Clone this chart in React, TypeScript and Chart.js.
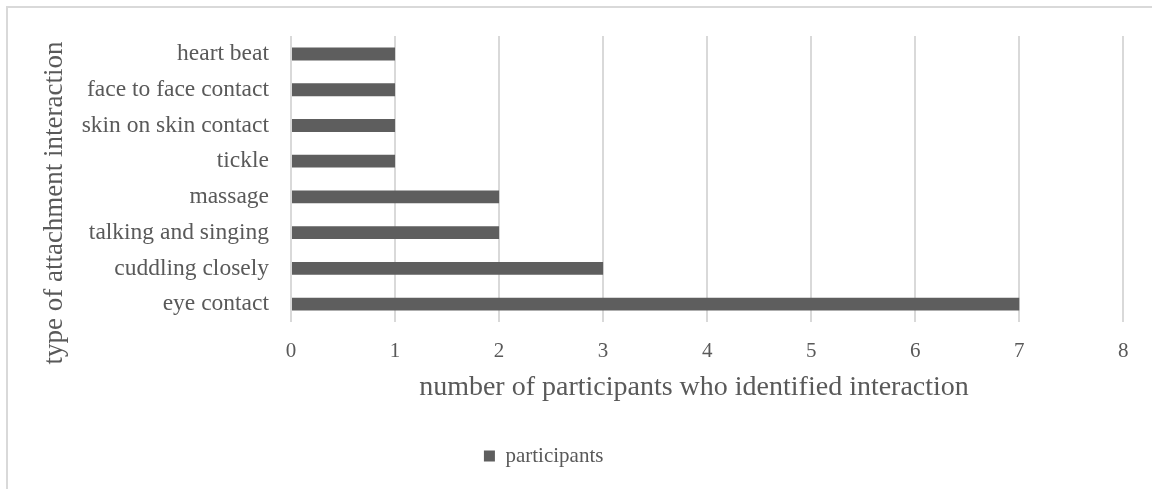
import React, { useEffect, useRef } from "react";
import { Chart, registerables } from "chart.js";

Chart.register(...registerables);

const categories = [
  "heart beat",
  "face to face contact",
  "skin on skin contact",
  "tickle",
  "massage",
  "talking and singing",
  "cuddling closely",
  "eye contact",
];
const participants = [1, 1, 1, 1, 2, 2, 3, 7];
const seriesName = "participants";
const xTitle = "number of participants who identified interaction";
const yTitle = "type of attachment interaction";
const xMin = 0;
const xMax = 8;
const xStep = 1;

const FONT = '"Liberation Serif", "Times New Roman", serif';
const TEXT = "#595959";
const BAR = "#5e5e5e";
const GRID = "#d9d9d9";
const SHIFT = 36; // canvas is shifted left by this many px

const titlesPlugin = {
  id: "axisTitlesCustom",
  afterDraw(chart: any) {
    const ctx = chart.ctx;
    ctx.save();
    ctx.fillStyle = TEXT;
    ctx.textAlign = "center";
    ctx.textBaseline = "middle";
    ctx.font = `28px ${FONT}`;
    ctx.fillText(xTitle, 694 + SHIFT, 388);
    ctx.font = `27px ${FONT}`;
    ctx.translate(55 + SHIFT, 203);
    ctx.rotate(-Math.PI / 2);
    ctx.fillText(yTitle, 0, 0);
    ctx.restore();
  },
};

export default function App() {
  const ref = useRef<HTMLCanvasElement | null>(null);
  useEffect(() => {
    if (!ref.current) return;
    const chart = new Chart(ref.current, {
      type: "bar",
      data: {
        labels: categories,
        datasets: [
          {
            label: seriesName,
            data: participants,
            backgroundColor: BAR,
            borderWidth: 0,
            barPercentage: 0.36,
            categoryPercentage: 1,
          },
        ],
      },
      plugins: [titlesPlugin],
      options: {
        indexAxis: "y",
        animation: false,
        responsive: false,
        devicePixelRatio: 1,
        layout: { padding: { top: 36, right: 28.7, left: 0, bottom: 12.5 } },
        plugins: {
          tooltip: { enabled: false },
          legend: {
            display: true,
            position: "bottom",
            labels: {
              boxWidth: 11,
              boxHeight: 11,
              padding: 10,
              color: TEXT,
              font: { family: FONT, size: 21 },
            },
          },
        },
        scales: {
          x: {
            type: "linear",
            min: xMin,
            max: xMax,
            ticks: {
              stepSize: xStep,
              color: TEXT,
              padding: 17,
              font: { family: FONT, size: 21 },
            },
            grid: { color: GRID, lineWidth: 2, drawTicks: false },
            border: { display: false },
            afterFit(scale: any) {
              scale.height = 113.5;
            },
          },
          y: {
            type: "category",
            ticks: {
              color: TEXT,
              padding: 22,
              font: { family: FONT, size: 23.5 },
            },
            grid: { display: false, drawTicks: false },
            border: { display: false },
            afterFit(scale: any) {
              scale.width = 327;
            },
          },
        },
      },
    });
    return () => chart.destroy();
  }, []);

  return (
    <div
      style={{
        position: "fixed",
        left: 0,
        top: 0,
        width: 1152,
        height: 489,
        overflow: "hidden",
        background: "#ffffff",
      }}
    >
      <canvas
        ref={ref}
        width={1188}
        height={489}
        style={{ position: "absolute", left: -SHIFT, top: 0, width: 1188, height: 489 }}
      />
      <div
        style={{
          position: "absolute",
          left: 6,
          top: 6,
          width: 1200,
          height: 500,
          borderLeft: `2px solid ${GRID}`,
          borderTop: `2px solid ${GRID}`,
          pointerEvents: "none",
        }}
      />
    </div>
  );
}
